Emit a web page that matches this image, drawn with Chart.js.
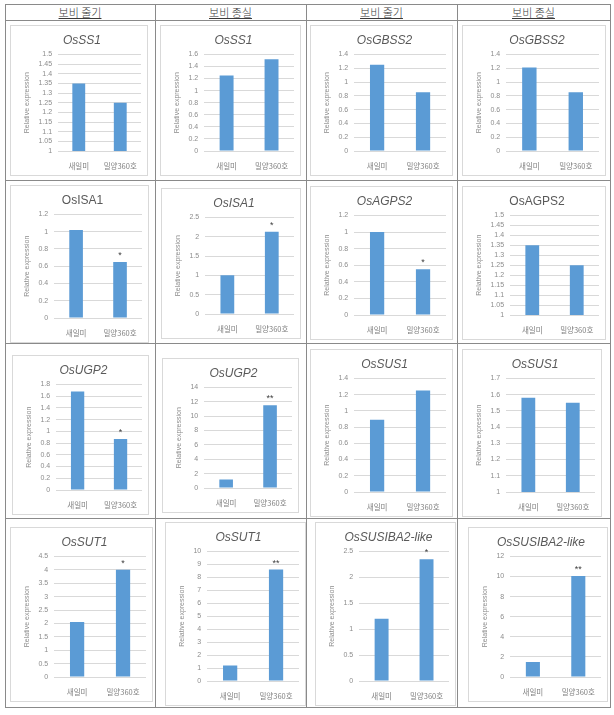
<!DOCTYPE html>
<html>
<head>
<meta charset="utf-8">
<script src="https://cdn.jsdelivr.net/npm/chart.js@4.4.1/dist/chart.umd.min.js"></script>
<style>
  body { margin: 0; background: #fff; font-family: "Noto Sans CJK KR", sans-serif; }
  #sheet { position: relative; width: 614px; height: 715px; }
  .line { position: absolute; background: #8a8a8a; }
  .head { position: absolute; top: 4px; height: 16px; line-height: 16px; text-align: center;
          font-size: 11px; font-weight: 300; color: #3a3a3a; text-decoration: underline; }
  .card { position: absolute; border: 1px solid #d9d9d9; box-sizing: border-box; background: #fff; }
  .card canvas { display: block; }
</style>
</head>
<body>
<div id="sheet"></div>
<script>
// --- data ---
const categories = ['새일미', '밀양360호'];
const headers = ['보비 줄기', '보비 종실', '보비 줄기', '보비 종실'];
const geneTitles = [
  'OsSS1', 'OsSS1', 'OsGBSS2', 'OsGBSS2',
  'OsISA1', 'OsISA1', 'OsAGPS2', 'OsAGPS2',
  'OsUGP2', 'OsUGP2', 'OsSUS1', 'OsSUS1',
  'OsSUT1', 'OsSUT1', 'OsSUSIBA2-like', 'OsSUSIBA2-like'
];
const saeilmiValues = [1.35, 1.25, 1.25, 1.21, 1.02, 1.0, 1.0, 1.35, 1.68, 1.2, 0.89, 1.58, 2.05, 1.2, 1.2, 1.5];
const miryangValues = [1.25, 1.52, 0.85, 0.85, 0.65, 2.13, 0.55, 1.25, 0.87, 11.5, 1.25, 1.55, 4.0, 8.6, 2.35, 10.05];
const yMins  = [1, 0, 0, 0, 0, 0, 0, 1, 0, 0, 0, 1, 0, 0, 0, 0];
const yMaxes = [1.5, 1.6, 1.4, 1.4, 1.2, 2.5, 1.2, 1.5, 1.8, 14, 1.4, 1.7, 4.5, 10, 2.5, 12];
const ySteps = [0.05, 0.2, 0.2, 0.2, 0.2, 0.5, 0.2, 0.05, 0.2, 2, 0.2, 0.1, 0.5, 1, 0.5, 2];
const marks  = ['', '', '', '', '*', '*', '*', '', '*', '**', '', '', '*', '**', '*', '**'];

// --- layout ---
const colLines = [5, 155, 306, 457, 610];
const rowLines = [4, 20, 180, 343, 518, 707];
const cards = [
  [10, 25, 138, 151], [160, 25, 141, 151], [310, 25, 143, 151], [462, 25, 144, 151],
  [10, 185, 139, 158], [161, 188, 140, 151], [310, 186, 143, 154], [462, 186, 144, 154],
  [12, 355, 137, 160], [162, 358, 137, 155], [310, 349, 143, 168], [462, 349, 140, 168],
  [10, 527, 143, 175], [165, 522, 141, 184], [315, 522, 141, 184], [468, 527, 140, 175]
];
const plainTitle = [false, false, false, false, true, false, false, true,
                    false, false, false, false, false, false, false, false];

const sheet = document.getElementById('sheet');

colLines.forEach(x => {
  const d = document.createElement('div');
  d.className = 'line';
  d.style.cssText = `left:${x}px;top:${rowLines[0]}px;width:1px;height:${rowLines[rowLines.length - 1] - rowLines[0]}px`;
  sheet.appendChild(d);
});
rowLines.forEach(y => {
  const d = document.createElement('div');
  d.className = 'line';
  d.style.cssText = `left:${colLines[0]}px;top:${y}px;width:${colLines[4] - colLines[0] + 1}px;height:1px`;
  sheet.appendChild(d);
});
headers.forEach((h, i) => {
  const d = document.createElement('div');
  d.className = 'head';
  d.style.left = colLines[i] + 'px';
  d.style.width = (colLines[i + 1] - colLines[i]) + 'px';
  d.textContent = h;
  sheet.appendChild(d);
});

// stars above the second bar
const starPlugin = {
  id: 'stars',
  afterDatasetsDraw(chart, args, opts) {
    if (!opts.text) return;
    const bar = chart.getDatasetMeta(0).data[1];
    const ctx = chart.ctx;
    ctx.save();
    ctx.fillStyle = '#404040';
    ctx.font = '9px "Liberation Sans"';
    ctx.textAlign = 'center';
    ctx.textBaseline = 'bottom';
    ctx.fillText(opts.text, bar.x, bar.y - 2);
    ctx.restore();
  }
};

function fmt(v) {
  return String(Number(v.toFixed(2)));
}

geneTitles.forEach((title, i) => {
  const [x, y, w, h] = cards[i];
  const box = document.createElement('div');
  box.className = 'card';
  box.style.cssText = `left:${x}px;top:${y}px;width:${w}px;height:${h}px`;
  const cv = document.createElement('canvas');
  cv.width = w - 2;
  cv.height = h - 2;
  box.appendChild(cv);
  sheet.appendChild(box);

  new Chart(cv, {
    type: 'bar',
    data: {
      labels: categories,
      datasets: [{
        data: [saeilmiValues[i], miryangValues[i]],
        backgroundColor: '#5b9bd5',
        categoryPercentage: 1,
        barPercentage: 0.31
      }]
    },
    options: {
      responsive: false,
      animation: false,
      layout: { padding: { left: 12, right: 6, top: 2, bottom: 1 } },
      plugins: {
        legend: { display: false },
        tooltip: { enabled: false },
        title: {
          display: true,
          text: title,
          color: '#595959',
          font: { family: '"Liberation Sans"', size: 12, style: plainTitle[i] ? 'normal' : 'italic', weight: 'normal' },
          padding: { top: 5, bottom: 7 }
        },
        stars: { text: marks[i] }
      },
      scales: {
        x: {
          grid: { display: false },
          border: { display: false },
          ticks: { color: '#7f7f7f', font: { family: '"Noto Sans CJK KR"', size: 7.5 }, padding: 3 }
        },
        y: {
          min: yMins[i],
          max: yMaxes[i],
          border: { display: false },
          grid: { color: '#d9d9d9', drawTicks: false },
          ticks: {
            stepSize: ySteps[i],
            autoSkip: false,
            color: '#8c8c8c',
            font: { family: '"Liberation Sans"', size: 7 },
            padding: 6,
            callback: function(value) { return fmt(value); }
          },
          title: {
            display: true,
            text: 'Relative expression',
            color: '#8c8c8c',
            font: { family: '"Liberation Sans"', size: 7 },
            padding: { top: 0, bottom: 1 }
          }
        }
      }
    },
    plugins: [starPlugin]
  });
});
</script>
</body>
</html>
